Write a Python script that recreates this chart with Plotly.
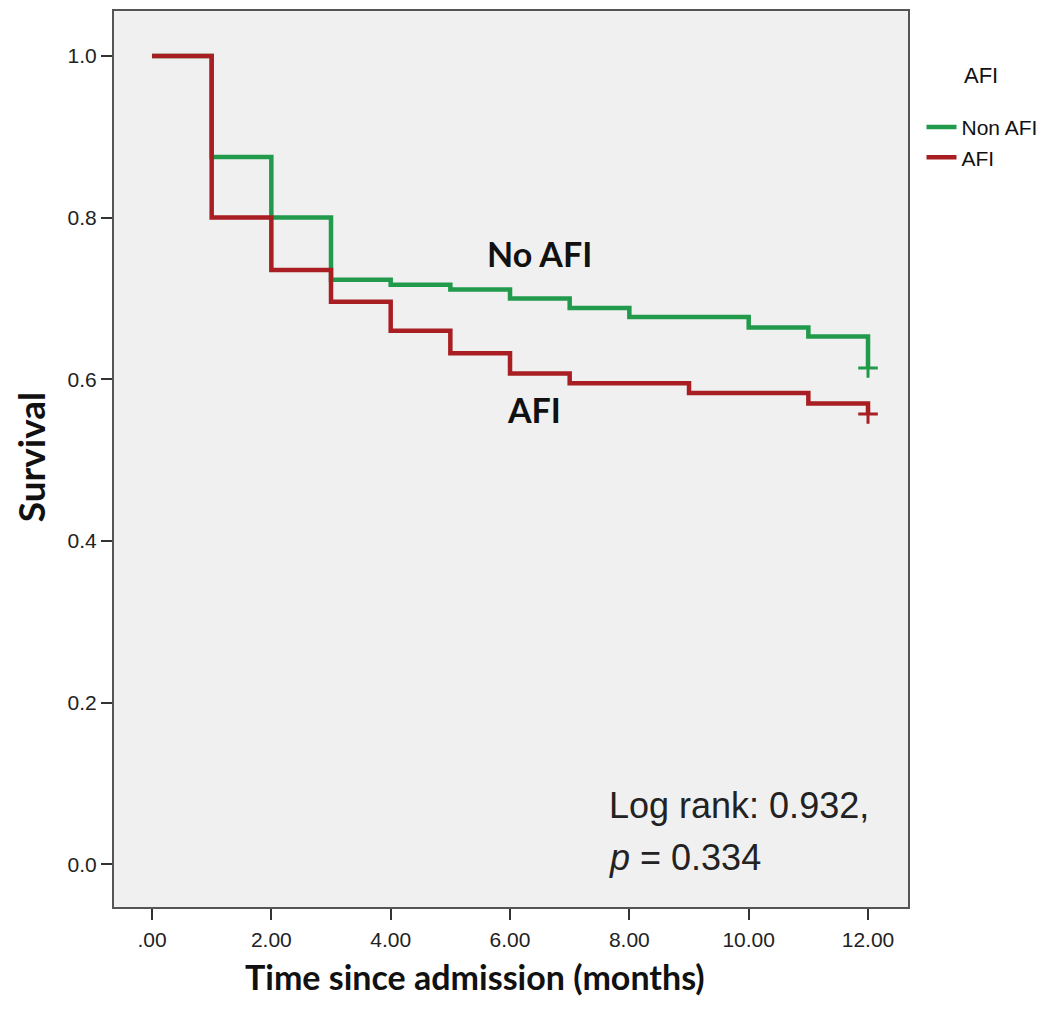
import plotly.graph_objects as go

# Data
non_afi_time = [0, 1, 2, 3, 4, 5, 6, 7, 8, 10, 11, 12]
non_afi_surv = [1.0, 0.875, 0.80, 0.723, 0.717, 0.711, 0.700, 0.688, 0.677, 0.664, 0.653, 0.614]
afi_time = [0, 1, 2, 3, 4, 5, 6, 7, 9, 11, 12]
afi_surv = [1.0, 0.80, 0.735, 0.696, 0.660, 0.632, 0.607, 0.595, 0.583, 0.570, 0.557]
censor_time = [12]
non_afi_censor = [0.614]
afi_censor = [0.557]

x_ticks = [0, 2, 4, 6, 8, 10, 12]
x_tick_labels = [".00", "2.00", "4.00", "6.00", "8.00", "10.00", "12.00"]
y_ticks = [0.0, 0.2, 0.4, 0.6, 0.8, 1.0]
y_tick_labels = ["0.0", "0.2", "0.4", "0.6", "0.8", "1.0"]

GREEN = "#219a4c"
RED = "#a81e22"
SANS = "Liberation Sans, Arial, sans-serif"
BOLD = "Lato, Liberation Sans, sans-serif"

fig = go.Figure()
fig.add_trace(go.Scatter(x=non_afi_time, y=non_afi_surv, mode="lines", line_shape="hv",
                         line=dict(color=GREEN, width=4.5), name="Non AFI"))
fig.add_trace(go.Scatter(x=afi_time, y=afi_surv, mode="lines", line_shape="hv",
                         line=dict(color=RED, width=4.5), name="AFI"))
fig.add_trace(go.Scatter(x=censor_time, y=non_afi_censor, mode="markers", showlegend=False,
                         marker=dict(symbol="cross-thin", size=14, line=dict(color=GREEN, width=3))))
fig.add_trace(go.Scatter(x=censor_time, y=afi_censor, mode="markers", showlegend=False,
                         marker=dict(symbol="cross-thin", size=14, line=dict(color=RED, width=3))))

fig.update_layout(
    width=1054, height=1007,
    margin=dict(l=106, r=154, t=1, b=108),
    paper_bgcolor="white", plot_bgcolor="#f0f0f0",
    font=dict(family=SANS, color="#222"),
    legend=dict(x=1.017, y=0.893, xanchor="left", yanchor="top",
                font=dict(size=21, family=SANS, color="#111"),
                itemwidth=30, tracegroupgap=0, bgcolor="rgba(0,0,0,0)"),
    showlegend=True,
)
fig.update_xaxes(range=[-0.637, 12.67], tickvals=x_ticks, ticktext=x_tick_labels,
                 ticks="outside", ticklen=11, tickwidth=2, tickcolor="#333",
                 ticklabelstandoff=2,
                 showgrid=False, zeroline=False, showline=True, linecolor="#555",
                 linewidth=2, mirror=True,
                 tickfont=dict(size=21, family=SANS, color="#222"))
fig.update_yaxes(range=[-0.053, 1.0556], tickvals=y_ticks, ticktext=y_tick_labels,
                 ticks="outside", ticklen=11, tickwidth=2, tickcolor="#333",
                 showgrid=False, zeroline=False, showline=True, linecolor="#555",
                 linewidth=2, mirror=True,
                 tickfont=dict(size=21, family=SANS, color="#222"))

fig.add_annotation(text="AFI", x=1.092, y=0.9276, xref="paper", yref="paper",
                   xanchor="center", yanchor="middle",
                   showarrow=False, font=dict(size=22, family=SANS, color="#111"))
fig.add_annotation(text="<b>No AFI</b>", x=6.5, y=0.756, xref="x", yref="y",
                   xanchor="center", yanchor="middle",
                   showarrow=False, font=dict(size=34, family=BOLD, color="#111"))
fig.add_annotation(text="<b>AFI</b>", x=6.4, y=0.563, xref="x", yref="y",
                   xanchor="center", yanchor="middle",
                   showarrow=False, font=dict(size=34, family=BOLD, color="#111"))
fig.add_annotation(text="Log rank: 0.932,", x=7.62, y=0.073, xref="x", yref="y",
                   xanchor="left", yanchor="middle",
                   showarrow=False, font=dict(size=36, family=SANS, color="#222"))
fig.add_annotation(text="<i>p</i> = 0.334", x=7.62, y=0.008, xref="x", yref="y",
                   xanchor="left", yanchor="middle",
                   showarrow=False, font=dict(size=36, family=SANS, color="#222"))
fig.add_annotation(text="<b>Survival</b>", x=-0.1058, y=0.503, xref="paper", yref="paper",
                   xanchor="center", yanchor="middle",
                   textangle=-90, showarrow=False, font=dict(size=37, family=BOLD, color="#111"))
fig.add_annotation(text="<b>Time since admission (months)</b>", x=0.4547, y=-0.0775,
                   xref="paper", yref="paper", xanchor="center", yanchor="middle",
                   showarrow=False, font=dict(size=34, family=BOLD, color="#111"))

fig.write_html("out.html")
